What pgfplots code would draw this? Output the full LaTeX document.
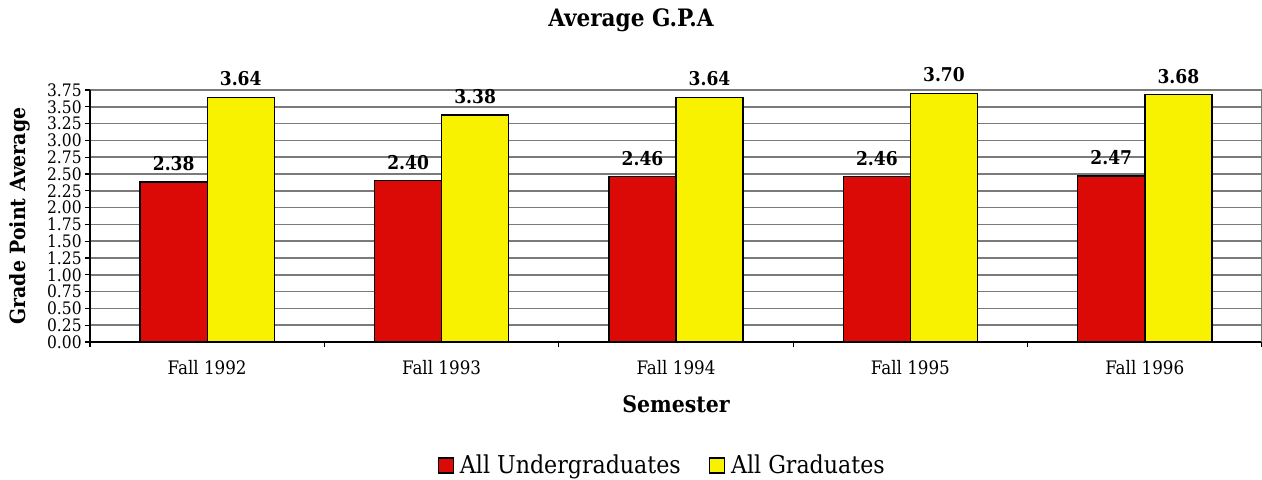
\documentclass[border=0pt]{standalone}
\usepackage{fontspec}
\setmainfont{DejaVu Serif Condensed}
\usepackage{pgfplots}
\pgfplotsset{compat=1.18}
\definecolor{ugred}{HTML}{DC0A06}
\definecolor{gryellow}{HTML}{F8F200}
\definecolor{gridgray}{HTML}{7A7A7A}

\begin{document}
\begin{tikzpicture}
\useasboundingbox (-45pt,-68.5pt) rectangle (586pt,171pt);
\begin{axis}[
  scale only axis, width=586pt, height=126pt,
  ybar=0pt, bar width=0.286,
  xmin=-0.5, xmax=4.5, ymin=0, ymax=3.75,
  axis x line*=bottom, axis y line*=left,
  axis line style={black, line width=0.6pt},
  ytick={0,0.25,0.5,0.75,1,1.25,1.5,1.75,2,2.25,2.5,2.75,3,3.25,3.5,3.75},
  yticklabel style={font=\fontsize{8.6}{8.6}\selectfont, inner sep=1.5pt, /pgf/number format/.cd, fixed, fixed zerofill, precision=2},
  /pgf/number format/assume math mode=true,
  ymajorgrids, grid style={draw=gridgray, line width=0.8pt},
  xtick={0,1,2,3,4},
  xticklabels={Fall 1992,Fall 1993,Fall 1994,Fall 1995,Fall 1996},
  xticklabel style={font=\fontsize{9.3}{9.3}\selectfont, anchor=center, yshift=-10.5pt},
  minor xtick={-0.5,0.5,1.5,2.5,3.5,4.5},
  major x tick style={draw=none},
  tick align=outside, major tick length=2.5pt, minor tick length=2.5pt,
  tick style={black, line width=0.6pt},
  xlabel={Semester},
  xlabel style={font=\fontsize{11.4}{11.4}\selectfont\bfseries, at={(axis description cs:0.5,-0.246)}, anchor=center},
  ylabel={Grade Point Average},
  ylabel style={font=\fontsize{10.5}{10.5}\selectfont\bfseries, at={(axis description cs:-0.0597,0.5)}, anchor=center},
  title={Average G.P.A},
  title style={font=\fontsize{12}{12}\selectfont\bfseries, at={(axis description cs:0.4616,1.2302)}, anchor=center},
  nodes near coords,
  nodes near coords style={font=\fontsize{9.5}{9.5}\selectfont\bfseries, yshift=2pt, /pgf/number format/.cd, fixed, fixed zerofill, precision=2},
  legend columns=2,
  legend style={draw=none, fill=none, font=\fontsize{12.3}{12.3}\selectfont,
    at={(axis description cs:0.489,-0.492)}, anchor=center,
    /tikz/every odd column/.append style={column sep=1pt},
    /tikz/every even column/.append style={column sep=12pt}},
  legend image code/.code={\draw[#1, draw=black, line width=0.7pt] (0pt,-3.6pt) rectangle (7.5pt,3.9pt);},
  clip=false,
]
\addplot[fill=ugred, draw=black, line width=0.7pt] coordinates {(0,2.38) (1,2.40) (2,2.46) (3,2.46) (4,2.47)};
\addlegendentry{All Undergraduates}
\addplot[fill=gryellow, draw=black, line width=0.7pt] coordinates {(0,3.64) (1,3.38) (2,3.64) (3,3.70) (4,3.68)};
\addlegendentry{All Graduates}
\draw[gridgray, line width=0.8pt] (rel axis cs:1,0) -- (rel axis cs:1,1);
\end{axis}
\end{tikzpicture}
\end{document}
